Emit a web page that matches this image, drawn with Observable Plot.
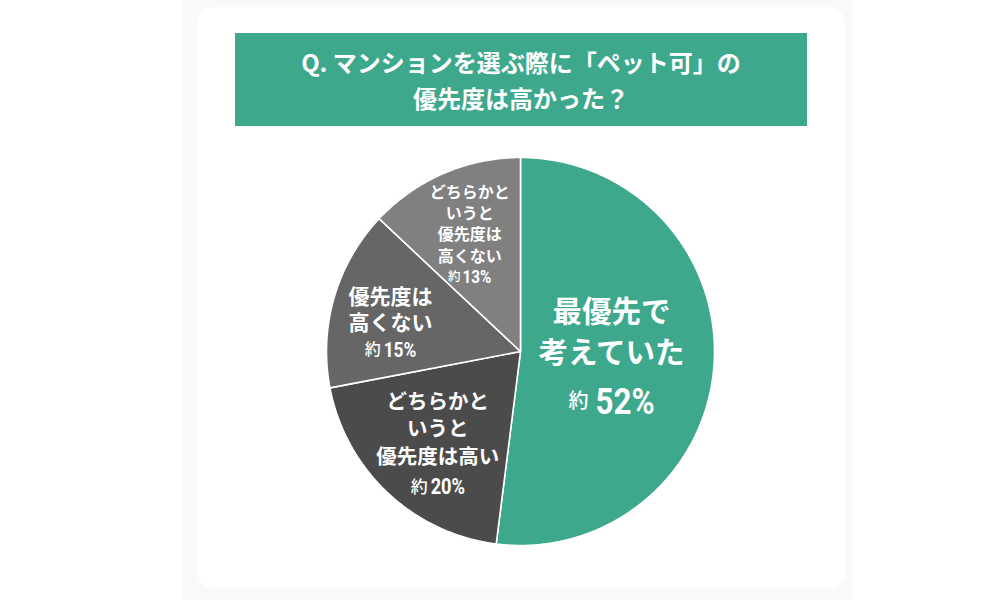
<!DOCTYPE html>
<html lang="ja">
<head>
<meta charset="utf-8">
<script src="https://cdn.jsdelivr.net/npm/d3@7"></script>
<script src="https://cdn.jsdelivr.net/npm/@observablehq/plot@0.6"></script>
<style>
  html, body { margin: 0; padding: 0; background: #ffffff; width: 1000px; height: 600px; overflow: hidden; }
  #band { position: absolute; left: 183px; top: 0; width: 669px; height: 600px; background: #fafafa; }
  #card { position: absolute; left: 197px; top: 7px; width: 648px; height: 581px; background: #ffffff; border-radius: 16px; }
  #chart { position: absolute; left: 0; top: 0; }
  #title { position: absolute; left: 235px; top: 33px; width: 572px; height: 93px; background: #3da88c;
    color: #ffffff; font-family: "Noto Sans CJK JP", sans-serif; font-weight: 700; font-size: 24px;
    line-height: 36px; display: flex; align-items: center; justify-content: center; text-align: center; z-index: 2; }
</style>
</head>
<body>
<div id="band"></div>
<div id="card"></div>
<div id="chart"></div>
<div id="title"><div>Q. マンションを選ぶ際に「ペット可」の<br>優先度は高かった？</div></div>
<script>
// ---- data ----
const categories = ["最優先で考えていた", "どちらかというと優先度は高い", "優先度は高くない", "どちらかというと優先度は高くない"];
const shares = [52, 20, 15, 13];
const labelLines = [
  ["最優先で", "考えていた"],
  ["どちらかと", "いうと", "優先度は高い"],
  ["優先度は", "高くない"],
  ["どちらかと", "いうと", "優先度は", "高くない"]
];
const pctLabels = ["52%", "20%", "15%", "13%"];
const prefixLabel = "約";

// ---- styling / layout (not data) ----
const colors = ["#3da88c", "#4b4b4b", "#666666", "#808080"];
const R = 194;            // pixel radius
const CX = 520, CY = 351; // pixel centre
const labelStyle = [
  {r: 0.47, fs: 29.5, lh: 41, fp: 20, fn: 37, gap: 48, nx: 0, ny: 0, g: 7},
  {r: 0.66, fs: 20.5, lh: 27.5, fp: 17, fn: 21.5, gap: 30, nx: 5, ny: 0, g: 3},
  {r: 0.66, fs: 21, lh: 26, fp: 16, fn: 20.5, gap: 27, nx: -7, ny: 8, g: 3},
  {r: 0.66, fs: 16, lh: 21.3, fp: 12.5, fn: 18, gap: 21, nx: 0, ny: 1, g: 2}
];
const NUM_W = 1.6; // condensed number width relative to font size

const total = d3.sum(shares);
let cum = 0;
const slices = categories.map((cat, i) => {
  const a0 = cum / total * 2 * Math.PI;
  cum += shares[i];
  const a1 = cum / total * 2 * Math.PI;
  return {cat, i, a0, a1};
});

// polygon outline for each slice (centre + arc), unit coordinates (y up, clockwise from 12 o'clock)
const outline = [];
for (const s of slices) {
  outline.push({cat: s.cat, x: 0, y: 0});
  const steps = Math.max(2, Math.ceil((s.a1 - s.a0) / (Math.PI / 360)));
  for (let k = 0; k <= steps; k++) {
    const a = s.a0 + (s.a1 - s.a0) * k / steps;
    outline.push({cat: s.cat, x: Math.sin(a), y: Math.cos(a)});
  }
}

// label rows
const lineRows = [], prefRows = [], numRows = [];
for (const s of slices) {
  const st = labelStyle[s.i];
  const mid = (s.a0 + s.a1) / 2;
  const ax = st.r * Math.sin(mid) + st.nx / R;
  const ay = st.r * Math.cos(mid) - st.ny / R;
  const lines = labelLines[s.i];
  const numOff = (lines.length - 1) * st.lh + st.gap;
  const half = numOff / 2;
  lines.forEach((t, k) => {
    lineRows.push({x: ax, y: ay - (k * st.lh - half) / R, text: t, fs: st.fs});
  });
  const ny = ay - (numOff - half) / R;
  const numW = NUM_W * st.fn;
  const W = st.fp + st.g + numW;
  const left = ax * R - W / 2;
  prefRows.push({x: (left + st.fp) / R, y: ny, text: prefixLabel, fs: st.fp});
  numRows.push({x: (left + st.fp + st.g) / R, y: ny, text: pctLabels[s.i], fs: st.fn, w: numW});
}

const plot = Plot.plot({
  width: 1000,
  height: 600,
  margin: 0,
  style: "background: transparent; overflow: visible;",
  x: {domain: [-1, 1], range: [CX - R, CX + R], axis: null},
  y: {domain: [-1, 1], range: [CY + R, CY - R], axis: null},
  color: {domain: categories, range: colors},
  marks: [
    Plot.line(outline, {x: "x", y: "y", z: "cat", fill: "cat", stroke: "#ffffff", strokeWidth: 1.6, curve: "linear-closed"}),
    Plot.text(lineRows, {x: "x", y: "y", text: "text", fontSize: "fs", fill: "#ffffff", fontWeight: 700, fontFamily: "Noto Sans CJK JP", textAnchor: "middle"}),
    Plot.text(prefRows, {x: "x", y: "y", text: "text", fontSize: "fs", fill: "#ffffff", fontWeight: 500, fontFamily: "Noto Sans CJK JP", textAnchor: "end"}),
    Plot.text(numRows, {x: "x", y: "y", text: "text", fontSize: "fs", fill: "#ffffff", fontWeight: 700, fontFamily: "Roboto", textAnchor: "start"})
  ]
});
// compress the percentage numbers horizontally (condensed look)
const textGroups = plot.querySelectorAll('g[aria-label="text"]');
const numGroup = textGroups[textGroups.length - 1];
numGroup.querySelectorAll("text").forEach((el, k) => {
  el.setAttribute("textLength", numRows[k].w);
  el.setAttribute("lengthAdjust", "spacingAndGlyphs");
});
document.getElementById("chart").appendChild(plot);
</script>
</body>
</html>
